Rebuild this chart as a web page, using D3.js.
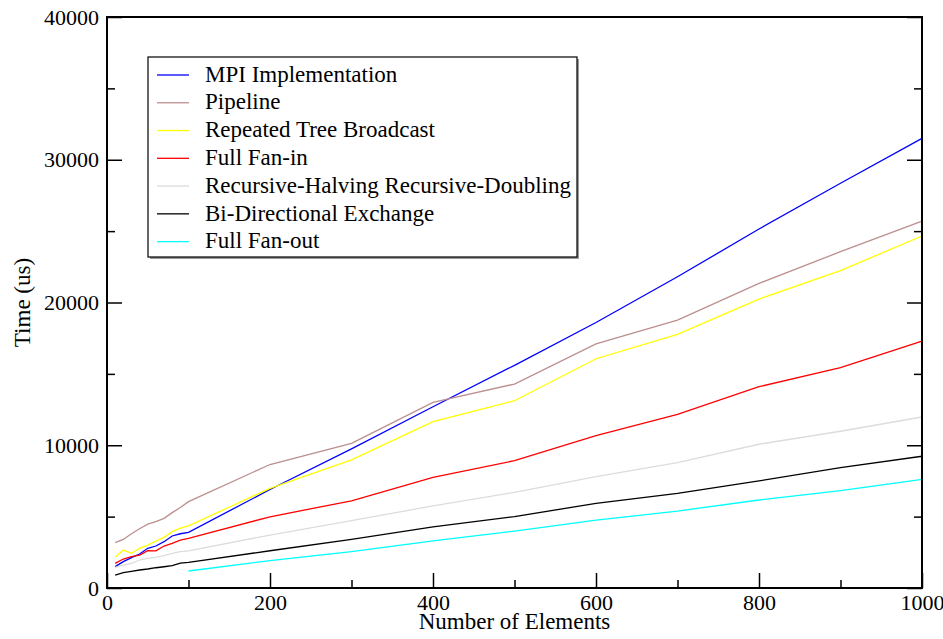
<!DOCTYPE html>
<html>
  <head>
    <title>Time vs Number of Elements</title>
    <script src="https://cdn.jsdelivr.net/npm/d3@7/dist/d3.min.js"></script>
    <style>
      body { margin: 0; background: #fff; }
      text { font-family: 'Liberation Serif', 'Times New Roman', serif; }
    </style>
  </head>
  <body>
    <svg width="943" height="639"></svg>
    <script>
      // x values (number of elements)
      const elements = [10, 20, 30, 40, 50, 60, 70, 80, 90, 100, 200, 300, 400, 500, 600, 700, 800, 900, 1000]
      const elementsFanOut = [100, 200, 300, 400, 500, 600, 700, 800, 900, 1000]

      // time in us
      const mpi = [1494, 1845, 2125, 2382, 2779, 2942, 3245, 3643, 3800, 3900, 6900, 9750, 12700, 15600, 18600, 21800, 25150, 28350, 31500]
      const pipeline = [3175, 3400, 3800, 4150, 4470, 4650, 4880, 5280, 5640, 6050, 8650, 10130, 13000, 14290, 17100, 18770, 21340, 23560, 25700]
      const treeBroadcast = [2150, 2660, 2430, 2780, 3010, 3290, 3550, 3950, 4200, 4350, 6980, 8970, 11650, 13120, 16060, 17770, 20240, 22230, 24660]
      const fanIn = [1730, 2030, 2200, 2310, 2620, 2600, 2940, 3130, 3360, 3480, 4990, 6110, 7750, 8920, 10670, 12160, 14100, 15430, 17300]
      const halvingDoubling = [1450, 1610, 1730, 1960, 2080, 2150, 2270, 2430, 2545, 2600, 3710, 4720, 5750, 6700, 7800, 8780, 10070, 10980, 11980]
      const biDirectional = [910, 1070, 1170, 1260, 1330, 1420, 1490, 1560, 1740, 1790, 2610, 3410, 4280, 5000, 5930, 6630, 7500, 8430, 9230]
      const fanOut = [1190, 1915, 2545, 3300, 3990, 4760, 5390, 6165, 6820, 7610]

      const seriesNames = ['MPI Implementation', 'Pipeline', 'Repeated Tree Broadcast', 'Full Fan-in',
        'Recursive-Halving Recursive-Doubling', 'Bi-Directional Exchange', 'Full Fan-out']
      const seriesColors = ['#0000ff', '#bc8f8f', '#ffff00', '#ff0000', '#dcdcdc', '#000000', '#00ffff']

      const xTicks = [0, 200, 400, 600, 800, 1000]
      const yTicks = [0, 10000, 20000, 30000, 40000]

      const series = [
        { x: elements, y: mpi },
        { x: elements, y: pipeline },
        { x: elements, y: treeBroadcast },
        { x: elements, y: fanIn },
        { x: elements, y: halvingDoubling },
        { x: elements, y: biDirectional },
        { x: elementsFanOut, y: fanOut },
      ].map((s, i) => ({ name: seriesNames[i], color: seriesColors[i], points: s.x.map((x, j) => [x, s.y[j]]) }))

      const svg = d3.select('svg')
      const plotLeft = 107, plotRight = 922, plotTop = 17, plotBottom = 588
      const serif = "'Liberation Serif', 'Times New Roman', serif"

      const x = d3.scaleLinear().domain([0, 1000]).range([plotLeft, plotRight])
      const y = d3.scaleLinear().domain([0, 40000]).range([plotBottom, plotTop])

      // lines
      const line = d3.line().x((d) => x(d[0])).y((d) => y(d[1]))
      svg.append('g')
        .selectAll('path')
        .data(series)
        .enter()
        .append('path')
        .attr('d', (d) => line(d.points))
        .attr('fill', 'none')
        .attr('stroke', (d) => d.color)
        .attr('stroke-width', 1.3)

      // inward ticks: bottom, left, right (major + minor)
      const tickStyle = (g) => {
        g.attr('font-family', serif).attr('font-size', 22)
        g.select('.domain').remove()
        g.selectAll('line').attr('stroke', '#000').attr('stroke-width', 1.5)
        g.selectAll('text').attr('font-family', serif).attr('font-size', 22).attr('fill', '#000')
      }

      svg.append('g')
        .attr('transform', `translate(0,${plotBottom})`)
        .call(d3.axisBottom(x).tickValues(d3.range(100, 1000, 200)).tickSize(-8).tickFormat(''))
        .call(tickStyle)
      svg.append('g')
        .attr('transform', `translate(0,${plotBottom})`)
        .call(d3.axisBottom(x).tickValues(xTicks).tickSize(-15).tickPadding(6).tickFormat(d3.format('d')))
        .call(tickStyle)

      svg.append('g')
        .attr('transform', `translate(${plotLeft},0)`)
        .call(d3.axisLeft(y).tickValues(d3.range(5000, 40000, 10000)).tickSize(-8).tickFormat(''))
        .call(tickStyle)
      svg.append('g')
        .attr('transform', `translate(${plotLeft},0)`)
        .call(d3.axisLeft(y).tickValues(yTicks).tickSize(-15).tickPadding(8).tickFormat(d3.format('d')))
        .call(tickStyle)

      svg.append('g')
        .attr('transform', `translate(${plotRight},0)`)
        .call(d3.axisRight(y).tickValues(d3.range(5000, 40000, 10000)).tickSize(-8).tickFormat(''))
        .call(tickStyle)
      svg.append('g')
        .attr('transform', `translate(${plotRight},0)`)
        .call(d3.axisRight(y).tickValues(yTicks).tickSize(-15).tickFormat(''))
        .call(tickStyle)

      // frame
      svg.append('rect')
        .attr('x', plotLeft).attr('y', plotTop)
        .attr('width', plotRight - plotLeft).attr('height', plotBottom - plotTop)
        .attr('fill', 'none').attr('stroke', '#000').attr('stroke-width', 2)

      // axis titles
      svg.append('text')
        .attr('x', (plotLeft + plotRight) / 2).attr('y', 629)
        .attr('text-anchor', 'middle').attr('font-size', 23)
        .text('Number of Elements')
      svg.append('text')
        .attr('transform', `translate(30,${(plotTop + plotBottom) / 2}) rotate(-90)`)
        .attr('text-anchor', 'middle').attr('font-size', 23)
        .text('Time (us)')

      // legend
      const legend = svg.append('g').attr('transform', 'translate(148,57)')
      legend.append('rect')
        .attr('x', 2).attr('y', 2).attr('width', 429).attr('height', 200)
        .attr('fill', '#999')
      legend.append('rect')
        .attr('width', 429).attr('height', 200)
        .attr('fill', '#fff').attr('stroke', '#000').attr('stroke-width', 1.2)

      const item = legend.selectAll('.item')
        .data(series)
        .enter()
        .append('g')
        .attr('transform', (d, i) => `translate(0,${18 + i * 27.77})`)
      item.append('line')
        .attr('x1', 9).attr('x2', 41)
        .attr('stroke', (d) => d.color).attr('stroke-width', 1.3)
      item.append('text')
        .attr('x', 57).attr('y', 6.7)
        .attr('font-size', 23)
        .text((d) => d.name)
    </script>
  </body>
</html>
